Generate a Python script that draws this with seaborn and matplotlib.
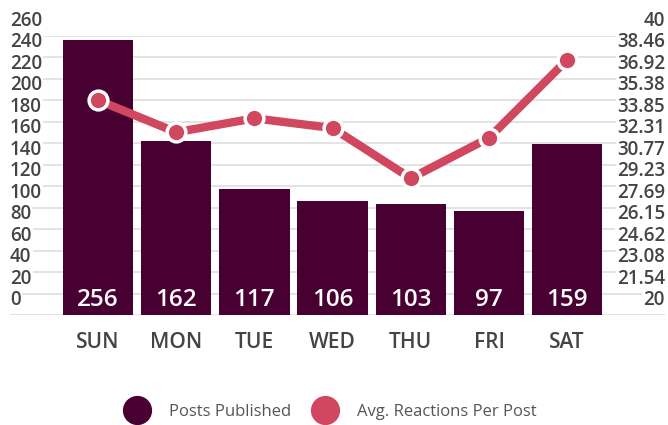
import matplotlib
matplotlib.use("Agg")
import matplotlib.pyplot as plt
import seaborn as sns
import numpy as np
import pandas as pd
from matplotlib.transforms import ScaledTranslation, blended_transform_factory
from matplotlib.lines import Line2D

# ---- data ----
days = ["SUN", "MON", "TUE", "WED", "THU", "FRI", "SAT"]
posts = [256, 162, 117, 106, 103, 97, 159]
reactions = [35.4, 33.1, 34.1, 33.4, 29.8, 32.7, 38.3]
left_ticks = [0, 20, 40, 60, 80, 100, 120, 140, 160, 180, 200, 220, 240, 260]
right_ticks = [20, 21.54, 23.08, 24.62, 26.15, 27.69, 29.23, 30.77,
               32.31, 33.85, 35.38, 36.92, 38.46, 40]
right_labels = ["20", "21.54", "23.08", "24.62", "26.15", "27.69", "29.23",
                "30.77", "32.31", "33.85", "35.38", "36.92", "38.46", "40"]
legend_labels = ["Posts Published", "Avg. Reactions Per Post"]

BAR = "#480032"
LINE = "#D0475F"
TXT = "#444444"
GRID = "#e0e0e0"

sns.set_theme(style="white")
plt.rcParams["font.family"] = ["Open Sans", "DejaVu Sans"]
plt.rcParams["font.weight"] = "medium"

W, H = 668, 425
fig = plt.figure(figsize=(W / 100, H / 100), dpi=100)
ax = fig.add_axes([10 / W, (H - 315) / H, 655 / W, 279 / H])

df = pd.DataFrame({"day": days, "posts": posts, "reactions": reactions})
df["pos"] = np.arange(len(days))

sns.barplot(data=df, x="day", y="posts", color=BAR, saturation=1,
            width=0.9, ax=ax, linewidth=0)
ax.set_ylim(0, 260)
ax.set_yticks(left_ticks)
ax.set_yticklabels([])
ax.tick_params(axis="y", length=0)
ax.yaxis.grid(True, color=GRID, lw=1.3)
ax.xaxis.grid(False)
ax.set_axisbelow(True)
for s in ax.spines.values():
    s.set_visible(False)
ax.set_xlabel("")
ax.set_ylabel("")
ax.tick_params(axis="x", length=0, pad=12, labelsize=15, labelcolor=TXT)
for lab in ax.get_xticklabels():
    lab.set_fontweight("semibold")

off_lbl = ScaledTranslation(0, 10 / 100, fig.dpi_scale_trans)
tl = blended_transform_factory(ax.transAxes, ax.transData) + off_lbl
for v in left_ticks:
    ax.text(0, v, str(v), transform=tl, ha="left", va="baseline",
            fontsize=13.5, color=TXT, fontweight="semibold",
            bbox=dict(fc="white", ec="none", pad=1))

# bar value labels
off_bar = ScaledTranslation(0, 9 / 100, fig.dpi_scale_trans)
for i, v in enumerate(posts):
    ax.text(i, 0, str(v), transform=ax.transData + off_bar, ha="center",
            va="baseline", color="white", fontsize=17.5, fontweight="semibold")

ax2 = ax.twinx()
sns.lineplot(data=df, x="pos", y="reactions", ax=ax2, color=LINE, lw=6,
             marker="o", markersize=13.5, markeredgecolor="white",
             markeredgewidth=2.5, sort=False)
ax2.set_ylim(20, 40)
ax2.set_yticks([])
ax2.grid(False)
for s in ax2.spines.values():
    s.set_visible(False)
ax2.set_xlabel("")
ax2.set_ylabel("")

tr = blended_transform_factory(ax2.transAxes, ax2.transData) + off_lbl
for v, lab in zip(right_ticks, right_labels):
    ax2.text(1, v, lab, transform=tr, ha="right", va="baseline",
             fontsize=13.5, color=TXT, fontweight="semibold",
             bbox=dict(fc="white", ec="none", pad=1))

ax.set_xlim(-1.125, 7.25)

handles = [Line2D([], [], ls="none", marker="o", ms=20, mfc=BAR, mec=BAR),
           Line2D([], [], ls="none", marker="o", ms=20, mfc=LINE, mec=LINE)]
fig.legend(handles=handles, labels=legend_labels, loc="center",
           bbox_to_anchor=(0.492, 1 - 412 / H), ncol=2, frameon=False,
           fontsize=12, handlelength=2, handletextpad=0.92,
           columnspacing=1.0, labelcolor="#555555")

fig.savefig("out.png", dpi=100)
